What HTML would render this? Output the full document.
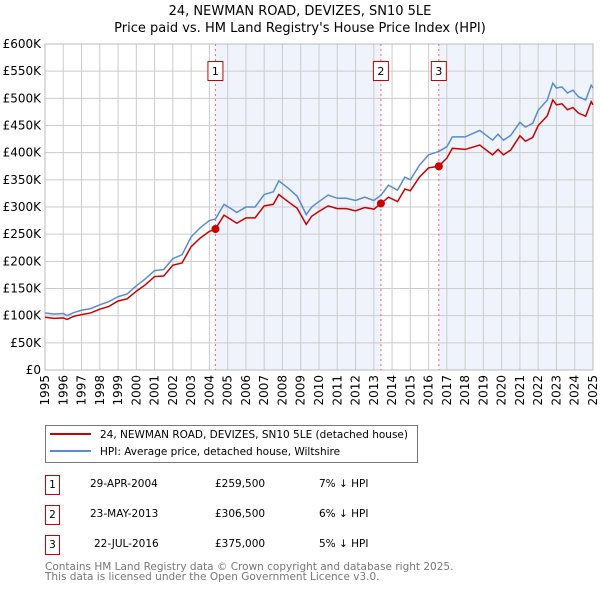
<!DOCTYPE html>
<html><head><meta charset="utf-8"><style>
body{margin:0;background:#fff;font-family:"DejaVu Sans","Liberation Sans",sans-serif;}
svg text{font-family:"DejaVu Sans","Liberation Sans",sans-serif;}
</style></head><body>
<svg id="chart" width="600" height="590" xmlns="http://www.w3.org/2000/svg">
<text x="300" y="15" text-anchor="middle" font-size="13" fill="#000">24, NEWMAN ROAD, DEVIZES, SN10 5LE</text>
<text x="300" y="32" text-anchor="middle" font-size="13" fill="#000">Price paid vs. HM Land Registry's House Price Index (HPI)</text>
<g id="plot"></g>
<g>
<rect x="45.5" y="425.5" width="372" height="37" fill="#fff" stroke="#777"/>
<line x1="50" y1="434" x2="91" y2="434" stroke="#cc0000" stroke-width="2"/>
<text x="100" y="438" font-size="10.5">24, NEWMAN ROAD, DEVIZES, SN10 5LE (detached house)</text>
<line x1="50" y1="451" x2="91" y2="451" stroke="#5b8bd0" stroke-width="2"/>
<text x="100" y="455" font-size="10.5">HPI: Average price, detached house, Wiltshire</text>
</g>
<g font-size="10.5">
<rect x="45.5" y="475.5" width="14" height="19" fill="#fff" stroke="#cc0000"/>
<text x="52.5" y="488" text-anchor="middle">1</text>
<text x="90" y="487">29-APR-2004</text>
<text x="215" y="487">£259,500</text>
<text x="319" y="487">7% ↓ HPI</text>
<rect x="45.5" y="505.5" width="14" height="19" fill="#fff" stroke="#cc0000"/>
<text x="52.5" y="518" text-anchor="middle">2</text>
<text x="90" y="517">23-MAY-2013</text>
<text x="215" y="517">£306,500</text>
<text x="319" y="517">6% ↓ HPI</text>
<rect x="45.5" y="535.5" width="14" height="19" fill="#fff" stroke="#cc0000"/>
<text x="52.5" y="548" text-anchor="middle">3</text>
<text x="94" y="547">22-JUL-2016</text>
<text x="215" y="547">£375,000</text>
<text x="319" y="547">5% ↓ HPI</text>
</g>
<text x="45" y="570" font-size="10.5" fill="#777">Contains HM Land Registry data © Crown copyright and database right 2025.</text>
<text x="45" y="580" font-size="10.5" fill="#777">This data is licensed under the Open Government Licence v3.0.</text>
</svg>
<script>
const years=[1995,1995.5,1996,1996.2,1996.6,1997,1997.5,1998,1998.5,1999,1999.5,2000,2000.5,2001,2001.5,2002,2002.5,2003,2003.5,2004,2004.33,2004.8,2005.5,2006,2006.5,2007,2007.5,2007.8,2008.3,2008.8,2009.1,2009.3,2009.6,2010,2010.5,2011,2011.5,2012,2012.5,2013,2013.4,2013.8,2014.3,2014.7,2015,2015.5,2016,2016.55,2017,2017.3,2018,2018.8,2019.5,2019.8,2020.1,2020.5,2021,2021.3,2021.7,2022,2022.5,2022.8,2023,2023.3,2023.6,2023.9,2024.2,2024.6,2024.9,2025];
const hpiValues=[105,103,104,100,106,110,113,120,126,135,140,155,168,183,185,205,212,245,262,275,278,305,290,300,300,323,328,348,335,320,300,286,300,310,322,316,316,312,318,312,322,340,331,355,350,377,396,402,411,429,429,441,423,434,423,432,456,447,454,478,497,528,519,521,510,515,503,497,524,519];
const priceValues=[97,95,96,93,99,102,105,112,117,127,131,145,157,172,173,193,197,227,243,255,259.5,285,270,280,280,302,305,323,310,298,280,268,283,292,302,297,297,293,299,296,306.5,318,310,333,330,355,372,375,390,408,406,414,396,406,396,405,431,421,428,450,468,497,488,490,479,483,473,467,494,488];
const saleYears=[2004.33,2013.39,2016.56];
const salePrices=[259.5,306.5,375];
const saleLabels=["1","2","3"];
const yTicks=[0,50,100,150,200,250,300,350,400,450,500,550,600];
const yTickLabels=["£0","£50K","£100K","£150K","£200K","£250K","£300K","£350K","£400K","£450K","£500K","£550K","£600K"];
const xTickYears=[1995,1996,1997,1998,1999,2000,2001,2002,2003,2004,2005,2006,2007,2008,2009,2010,2011,2012,2013,2014,2015,2016,2017,2018,2019,2020,2021,2022,2023,2024,2025];

const NS="http://www.w3.org/2000/svg";
const L=45,R=593,T=44,B=370;
const xs=y=>L+(y-1995)/30*(R-L);
const ys=v=>B-v/600*(B-T);
const plot=document.getElementById('plot');
function mk(tag,attrs,parent){const e=document.createElementNS(NS,tag);for(const k in attrs)e.setAttribute(k,attrs[k]);(parent||plot).appendChild(e);return e;}

const s1=mk('rect',{x:xs(saleYears[0]),y:T,width:xs(saleYears[1])-xs(saleYears[0]),height:B-T,fill:'#eef3fc'});


const s2=mk('rect',{x:xs(saleYears[2]),y:T,width:R-xs(saleYears[2]),height:B-T,fill:'#eef3fc'});



yTicks.forEach((v,i)=>{
  const g=mk('line',{x1:L,x2:R,y1:ys(v),y2:ys(v),stroke:'#cccccc','stroke-width':1});
  
  
  const t=mk('text',{x:L-4,y:ys(v)+4,'text-anchor':'end','font-size':12,fill:'#000'});
  t.textContent=yTickLabels[i];
  
  
});
xTickYears.forEach(yr=>{
  const g=mk('line',{x1:xs(yr),x2:xs(yr),y1:T,y2:B,stroke:'#cccccc','stroke-width':1});
  
  
  const wrap=mk('g',{transform:'translate('+(xs(yr)+4)+','+(B+5)+') rotate(-90)'});
  
  
  const t=mk('text',{x:0,y:0,'text-anchor':'end','font-size':12,fill:'#000'},wrap);
  t.textContent=yr;
  
  
});
const border=mk('rect',{x:L,y:T,width:R-L,height:B-T,fill:'none',stroke:'#bbbbbb'});



saleYears.forEach((yr,i)=>{
  const l=mk('line',{x1:xs(yr),x2:xs(yr),y1:T,y2:B,stroke:'#ff6666','stroke-width':1,'stroke-dasharray':'2,3'});
  
  
});

const hp=mk('polyline',{points:years.map((y,i)=>xs(y)+','+ys(hpiValues[i])).join(' '),fill:'none',stroke:'#5b8bd0','stroke-width':1.5});


const pp=mk('polyline',{points:years.map((y,i)=>xs(y)+','+ys(priceValues[i])).join(' '),fill:'none',stroke:'#cc0000','stroke-width':1.5});



saleYears.forEach((yr,i)=>{
  const c=mk('circle',{cx:xs(yr),cy:ys(salePrices[i]),r:4,fill:'#cc0000'});
  
  
  const bx=mk('rect',{x:xs(yr)-7.5,y:61.5,width:15,height:19,fill:'#fff',stroke:'#cc0000'});
  
  
  const t=mk('text',{x:xs(yr),y:75,'text-anchor':'middle','font-size':11,fill:'#000'});
  t.textContent=saleLabels[i];
  
  
});
</script>
</body></html>
